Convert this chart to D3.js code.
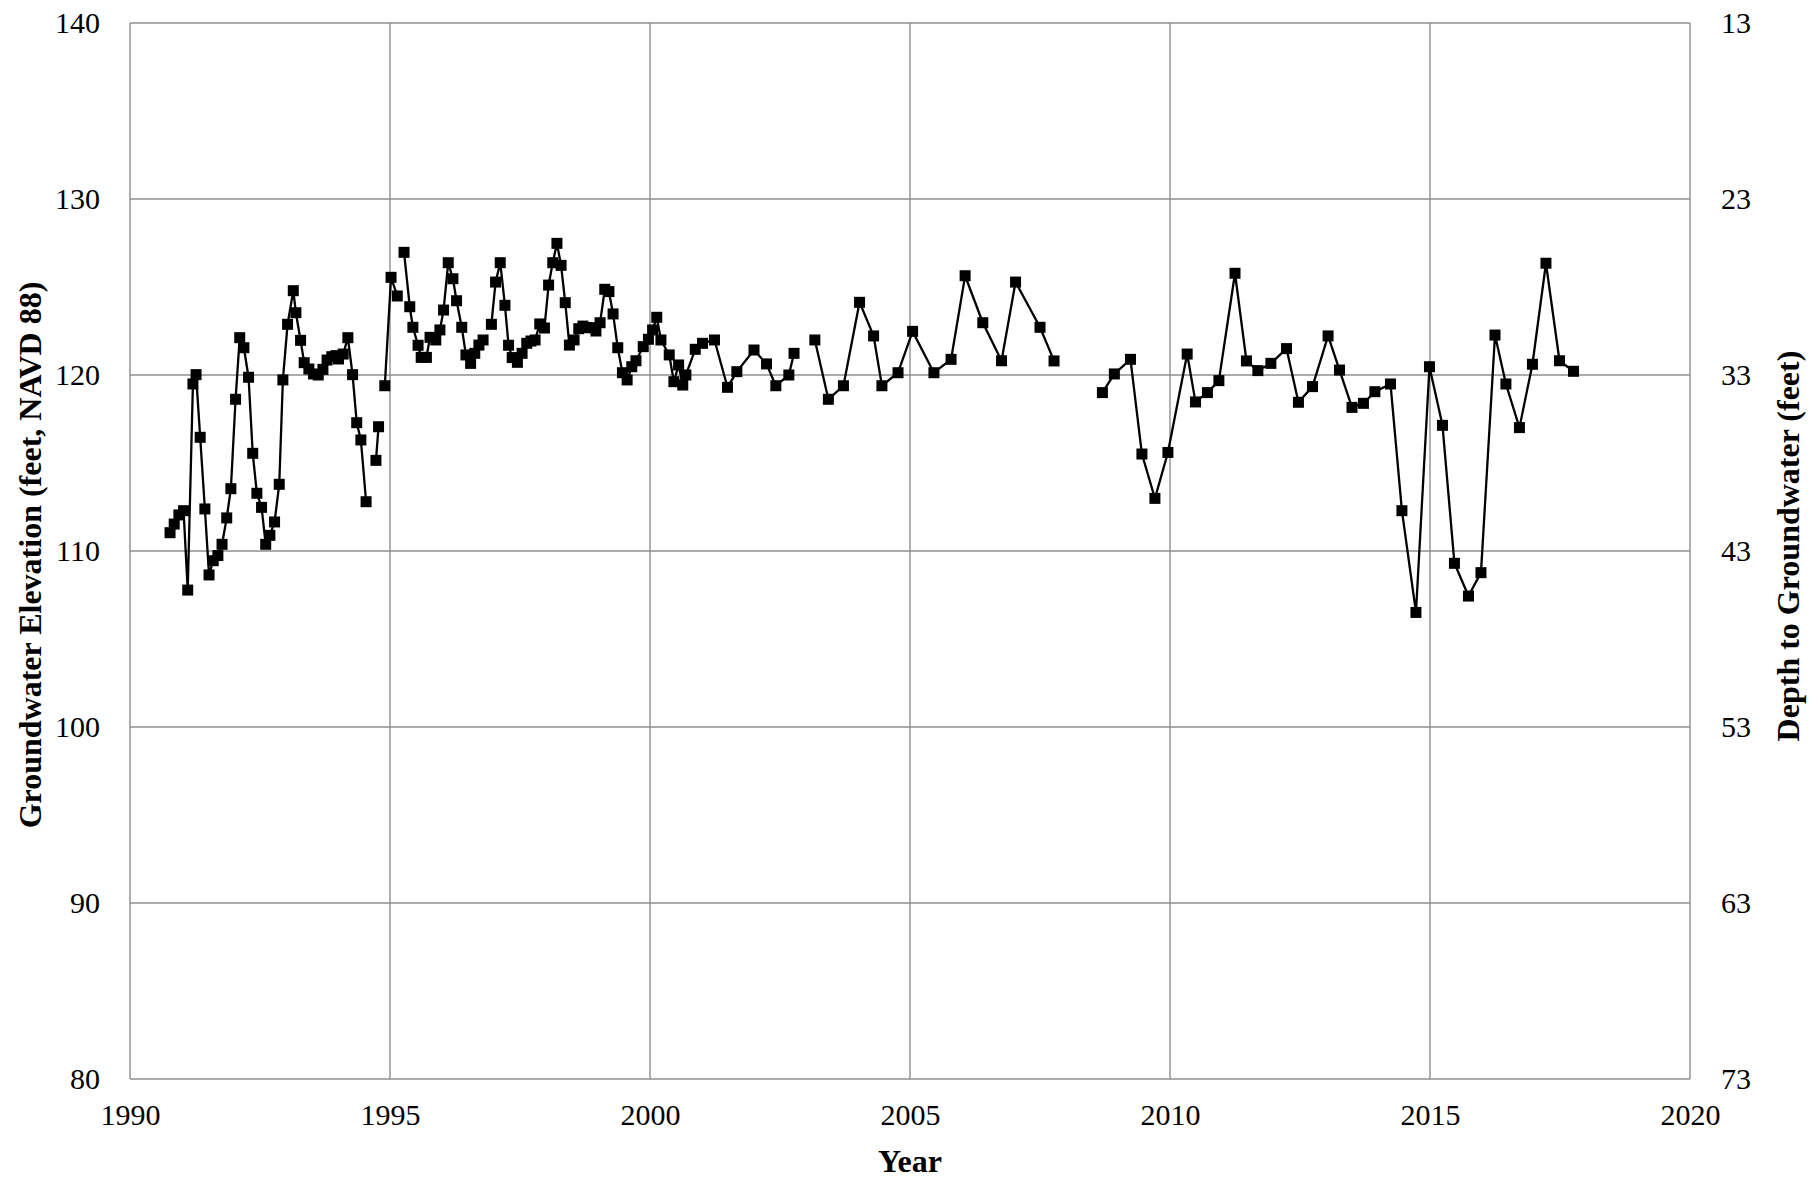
<!DOCTYPE html>
<html>
<head>
<meta charset="utf-8">
<script src="https://cdn.jsdelivr.net/npm/d3@7"></script>
<style>
  body { margin: 0; background: #fff; }
  svg text { font-family: "Liberation Serif", "Times New Roman", serif; fill: #000; }
</style>
</head>
<body>
<svg id="chart"></svg>
<script>
// decimal year of each measurement; null marks a break in the record
const years = [
  1990.77, 1990.85, 1990.94, 1991.03, 1991.11, 1991.21, 1991.27, 1991.35, 1991.44, 1991.52,
  1991.60, 1991.69, 1991.77, 1991.86, 1991.94, 1992.03, 1992.11, 1992.19, 1992.28, 1992.36,
  1992.44, 1992.53, 1992.61, 1992.69, 1992.78, 1992.87, 1992.94, 1993.03, 1993.14, 1993.19,
  1993.28, 1993.35, 1993.44, 1993.53, 1993.62, 1993.71, 1993.79, 1993.88, 1993.96, 1994.01,
  1994.10, 1994.19, 1994.28, 1994.36, 1994.44, 1994.54, null,
  1994.73, 1994.78, null,
  1994.90, 1995.02, 1995.14, null,
  1995.27, 1995.38, 1995.44, 1995.54, 1995.60, 1995.70, 1995.77, 1995.88, 1995.96, 1996.03,
  1996.12, 1996.21, 1996.28, 1996.38, 1996.46, 1996.55, 1996.63, 1996.71, 1996.79, null,
  1996.95, 1997.03, 1997.12, 1997.21, 1997.28, 1997.35, 1997.45, 1997.54, 1997.63, 1997.71,
  1997.79, 1997.88, 1997.97, 1998.05, 1998.13, 1998.21, 1998.29, 1998.37, 1998.45, 1998.54,
  1998.63, 1998.71, 1998.79, 1998.88, 1998.96, 1999.04, 1999.13, 1999.21, 1999.29, 1999.38,
  1999.47, 1999.56, 1999.65, 1999.73, 1999.87, 1999.97, 2000.05, 2000.13, 2000.21, 2000.37,
  2000.46, 2000.55, 2000.63, 2000.69, 2000.87, 2001.01, 2001.24, 2001.49, 2001.67, 2002.00,
  2002.24, 2002.42, 2002.67, 2002.77, null,
  2003.17, 2003.43, 2003.72, 2004.03, 2004.30, 2004.46, 2004.77, 2005.05, 2005.46, 2005.79,
  2006.06, 2006.40, 2006.76, 2007.03, 2007.50, 2007.77, null,
  2008.70, 2008.93, 2009.24, 2009.46, 2009.71, 2009.96, 2010.33, 2010.49, 2010.72, 2010.94,
  2011.25, 2011.47, 2011.69, 2011.94, 2012.24, 2012.47, 2012.74, 2013.04, 2013.26, 2013.50,
  2013.72, 2013.94, 2014.24, 2014.46, 2014.73, 2014.99, 2015.24, 2015.47, 2015.74, 2015.98,
  2016.25, 2016.46, 2016.72, 2016.97, 2017.23, 2017.49, 2017.76
]

// groundwater elevation, feet NAVD 88
const elevations = [
  111.04, 111.53, 112.05, 112.29, 107.78, 119.49, 120.02, 116.46, 112.39, 108.64,
  109.45, 109.74, 110.38, 111.88, 113.54, 118.62, 122.12, 121.55, 119.87, 115.55,
  113.28, 112.48, 110.38, 110.89, 111.65, 113.79, 119.72, 122.88, 124.79, 123.54,
  121.97, 120.70, 120.34, 120.06, 120.00, 120.32, 120.85, 121.04, 121.10, 120.91,
  121.19, 122.12, 120.02, 117.29, 116.31, 112.80, null,
  115.15, 117.06, null,
  119.39, 125.55, 124.49, null,
  126.97, 123.88, 122.71, 121.69, 121.00, 121.00, 122.14, 121.99, 122.56, 123.69,
  126.38, 125.47, 124.22, 122.71, 121.14, 120.66, 121.23, 121.70, 121.99, null,
  122.88, 125.28, 126.38, 123.96, 121.69, 120.99, 120.72, 121.23, 121.80, 121.93,
  121.99, 122.90, 122.67, 125.11, 126.38, 127.48, 126.23, 124.11, 121.70, 121.99,
  122.63, 122.78, 122.69, 122.69, 122.50, 122.97, 124.87, 124.74, 123.47, 121.55,
  120.13, 119.72, 120.47, 120.81, 121.61, 122.03, 122.56, 123.28, 121.99, 121.14,
  119.62, 120.57, 119.43, 120.00, 121.46, 121.80, 121.99, 119.30, 120.19, 121.42,
  120.63, 119.39, 120.00, 121.23, null,
  121.99, 118.62, 119.39, 124.13, 122.22, 119.39, 120.13, 122.48, 120.13, 120.89,
  125.64, 122.97, 120.81, 125.28, 122.71, 120.80, null,
  119.00, 120.06, 120.89, 115.51, 112.99, 115.60, 121.19, 118.47, 119.00, 119.68,
  125.78, 120.80, 120.25, 120.66, 121.50, 118.45, 119.34, 122.22, 120.28, 118.16,
  118.39, 119.05, 119.49, 112.29, 106.51, 120.47, 117.14, 109.30, 107.44, 108.77,
  122.27, 119.49, 117.01, 120.61, 126.35, 120.81, 120.21
]

const yearTicks = [1990, 1995, 2000, 2005, 2010, 2015, 2020]
const elevTicks = [80, 90, 100, 110, 120, 130, 140]
const depthTicks = [13, 23, 33, 43, 53, 63, 73]

const W = 1820, H = 1179
const margin = {top: 23, right: 130, bottom: 100, left: 130}
const iw = W - margin.left - margin.right
const ih = H - margin.top - margin.bottom

const svg = d3.select('#chart')
  .attr('width', W)
  .attr('height', H)

const x = d3.scaleLinear().domain([1990, 2020]).range([margin.left, margin.left + iw])
const y = d3.scaleLinear().domain([80, 140]).range([margin.top + ih, margin.top])
// depth = 153 - elevation, so the right axis runs the other way
const yDepth = d3.scaleLinear().domain([73, 13]).range([margin.top + ih, margin.top])

const gridColor = '#8f8f8f'

// gridlines
svg.append('g')
  .selectAll('line')
  .data(elevTicks)
  .join('line')
  .attr('x1', margin.left).attr('x2', margin.left + iw)
  .attr('y1', d => y(d)).attr('y2', d => y(d))
  .attr('stroke', gridColor).attr('stroke-width', 1.4)

svg.append('g')
  .selectAll('line')
  .data(yearTicks)
  .join('line')
  .attr('y1', margin.top).attr('y2', margin.top + ih)
  .attr('x1', d => x(d)).attr('x2', d => x(d))
  .attr('stroke', gridColor).attr('stroke-width', 1.4)

// axes (labels only, no tick marks)
const fontSize = 30
const titleSize = 32
const leftAxis = svg.append('g')
  .attr('transform', `translate(${margin.left},0)`)
  .call(d3.axisLeft(y).tickValues(elevTicks).tickSize(0).tickPadding(30))
const rightAxis = svg.append('g')
  .attr('transform', `translate(${margin.left + iw},0)`)
  .call(d3.axisRight(yDepth).tickValues(depthTicks).tickSize(0).tickPadding(31))
const bottomAxis = svg.append('g')
  .attr('transform', `translate(0,${margin.top + ih})`)
  .call(d3.axisBottom(x).tickValues(yearTicks).tickFormat(d3.format('d')).tickSize(0).tickPadding(25))

;[leftAxis, rightAxis, bottomAxis].forEach(g => {
  g.select('.domain').remove()
  g.selectAll('text')
    .attr('font-size', fontSize)
    .attr('font-family', '"Liberation Serif", serif')
    .attr('fill', '#000')
})

// series
const pts = years.map((yr, i) => ({yr, v: elevations[i]}))
const line = d3.line()
  .defined(d => d.yr !== null && d.v !== null)
  .x(d => x(d.yr))
  .y(d => y(d.v))

svg.append('path')
  .datum(pts)
  .attr('d', line)
  .attr('fill', 'none')
  .attr('stroke', '#000')
  .attr('stroke-width', 2.3)
  .attr('stroke-linejoin', 'round')

const s = 11
svg.append('g')
  .selectAll('rect')
  .data(pts.filter(d => d.yr !== null))
  .join('rect')
  .attr('x', d => x(d.yr) - s / 2)
  .attr('y', d => y(d.v) - s / 2)
  .attr('width', s)
  .attr('height', s)
  .attr('fill', '#000')

// titles
svg.append('text')
  .attr('x', margin.left + iw / 2)
  .attr('y', 1172)
  .attr('text-anchor', 'middle')
  .attr('font-size', titleSize)
  .attr('font-weight', 'bold')
  .text('Year')

svg.append('text')
  .attr('transform', `translate(41,${margin.top + ih / 2 + 4}) rotate(-90)`)
  .attr('text-anchor', 'middle')
  .attr('font-size', titleSize)
  .attr('font-weight', 'bold')
  .text('Groundwater Elevation (feet, NAVD 88)')

svg.append('text')
  .attr('transform', `translate(1799,${margin.top + ih / 2 - 5}) rotate(-90)`)
  .attr('text-anchor', 'middle')
  .attr('font-size', titleSize)
  .attr('font-weight', 'bold')
  .text('Depth to Groundwater (feet)')
</script>
</body>
</html>
